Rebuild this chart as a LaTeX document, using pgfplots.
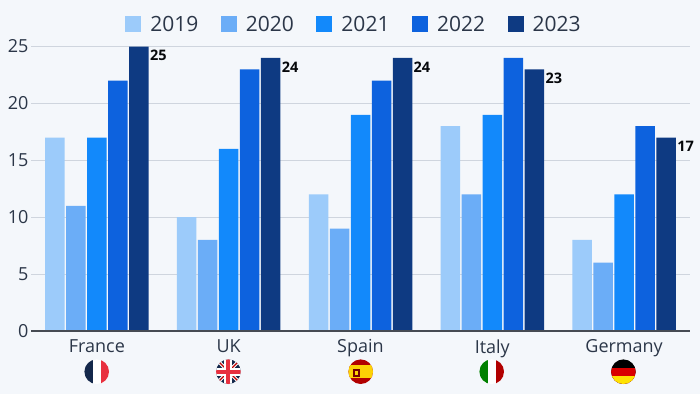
\documentclass[border=0pt]{standalone}
\usepackage{pgfplots}
\pgfplotsset{compat=1.18}
\usepackage{fontspec}
\setmainfont{Open Sans}
\definecolor{bg}{HTML}{F4F7FB}
\definecolor{cA}{HTML}{9CCBFA}
\definecolor{cB}{HTML}{6BADF7}
\definecolor{cC}{HTML}{1289FB}
\definecolor{cD}{HTML}{0D62DE}
\definecolor{cE}{HTML}{0E3A82}
\definecolor{txt}{HTML}{2B3648}
\definecolor{gridc}{HTML}{CFD5DE}
\definecolor{fnavy}{HTML}{14284B}
\definecolor{fred}{HTML}{E8303F}
\begin{document}
\begin{tikzpicture}[x=1pt,y=1pt]
\path[use as bounding box,fill=bg] (0,0) rectangle (700,394);
\begin{axis}[
  at={(31pt,63pt)},anchor=south west,
  scale only axis,width=659pt,height=284.5pt,
  xmin=-0.5,xmax=4.5,ymin=0,ymax=25,
  clip=false,
  axis line style={draw=none},
  axis x line=bottom,axis y line=left,
  ymajorgrids,
  grid style={gridc,line width=1pt},
  ytick={0,5,10,15,20,25},
  xtick={0,1,2,3,4},
  xticklabels={France,UK,Spain,Italy,Germany},
  major tick length=0pt,
  tick align=outside,
  xticklabel style={font=\fontsize{18}{18}\selectfont,text=txt,yshift=-5pt},
  yticklabel style={font=\fontsize{18}{18}\selectfont,text=txt,xshift=1pt},
  /pgf/number format/assume math mode=true,
  ybar=1.5pt,bar width=19.5pt,
  axis on top=false,
  legend style={at={(0.5,1)},yshift=12pt,xshift=-6.5pt,anchor=south,draw=none,fill=none,
    legend columns=5,font=\fontsize{21}{21}\selectfont,text=txt,
    /tikz/every even column/.append style={column sep=20.5pt},
    /tikz/every odd column/.append style={column sep=7pt},
    inner sep=0pt,outer sep=0pt},
  legend image code/.code={\fill[#1] (0pt,-8pt) rectangle (16pt,8pt);},
]
\addplot[fill=cA,draw=none] coordinates {(0,17)(1,10)(2,12)(3,18)(4,8)};
\addplot[fill=cB,draw=none] coordinates {(0,11)(1,8)(2,9)(3,12)(4,6)};
\addplot[fill=cC,draw=none] coordinates {(0,17)(1,16)(2,19)(3,19)(4,12)};
\addplot[fill=cD,draw=none] coordinates {(0,22)(1,23)(2,22)(3,24)(4,18)};
\addplot[fill=cE,draw=none,
  nodes near coords,
  every node near coord/.append style={anchor=north west,xshift=10pt,yshift=-2.5pt,inner sep=1pt,
    font=\fontsize{14.5}{14.5}\selectfont\bfseries,text=black!85!txt}]
  coordinates {(0,25)(1,24)(2,24)(3,23)(4,17)};
\legend{2019,2020,2021,2022,2023}
\draw[line width=1.2pt,color=black!45!txt!80!white] (axis cs:-0.5,0) -- (axis cs:4.5,0);
\end{axis}
% flags
\begin{scope}\clip (96.7,22.3) circle (12.3);
\fill[white] (84,9) rectangle (110,36);
\fill[fnavy] (84,9) rectangle (92.6,36);
\fill[fred] (100.9,9) rectangle (110,36);
\end{scope}
\begin{scope}\clip (228.4,22.3) circle (12.3);
\fill[fnavy] (215,9) rectangle (242,36);
\draw[white,line width=3.5pt] (215,9)--(242,36) (215,36)--(242,9);
\draw[red!75!black,line width=1.2pt] (215,9)--(242,36) (215,36)--(242,9);
\fill[white] (215,18.3) rectangle (242,26.3);\fill[white] (224.4,9) rectangle (232.4,36);
\fill[fred] (215,20.3) rectangle (242,24.3);\fill[fred] (226.4,9) rectangle (230.4,36);
\end{scope}
\begin{scope}\clip (360.7,22.3) circle (12.3);
\fill[red!70!black] (348,9) rectangle (374,36);
\fill[yellow!70!orange] (348,16) rectangle (374,28.6);
\fill[red!45!black] (352.5,17.5) rectangle (359.5,25);
\fill[yellow!70!orange] (354.5,19) rectangle (357.5,23);
\end{scope}
\begin{scope}\clip (491.7,22.3) circle (12.3);
\fill[white] (479,9) rectangle (505,36);
\fill[green!50!black] (479,9) rectangle (487.6,36);
\fill[red!70!black] (495.8,9) rectangle (505,36);
\end{scope}
\begin{scope}\clip (623.4,22.3) circle (12.3);
\fill[black] (611,9) rectangle (637,36);
\fill[red!85!black] (611,9) rectangle (637,26.4);
\fill[yellow!85!orange] (611,9) rectangle (637,18.2);
\end{scope}
\end{tikzpicture}
\end{document}
